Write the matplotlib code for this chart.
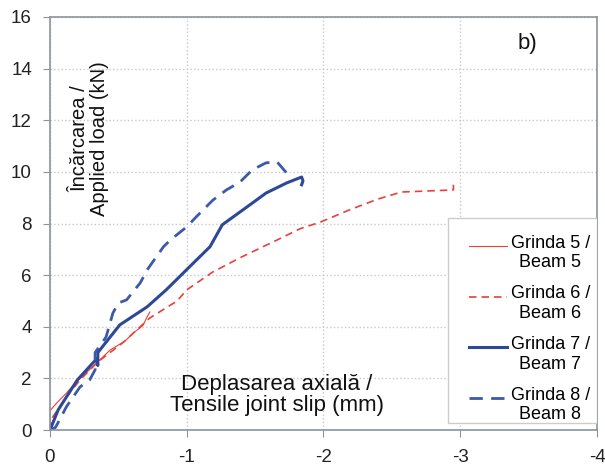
import matplotlib.pyplot as plt
from matplotlib.lines import Line2D
from matplotlib.legend_handler import HandlerLine2D
from matplotlib.patches import Rectangle
import numpy as np

plt.rcParams['font.family'] = ['Liberation Sans', 'DejaVu Sans']
plt.rcParams['axes.unicode_minus'] = False

# Grinda 5 / Beam 5
x5 = [0, 0, -0.05, -0.12, -0.2, -0.31, -0.44, -0.55, -0.61, -0.68, -0.71, -0.73]
y5 = [0, 0.75, 1.05, 1.43, 1.9, 2.44, 3.1, 3.45, 3.76, 4.05, 4.38, 4.57]

# Grinda 6 / Beam 6
x6 = [0, -0.02, -0.12, -0.22, -0.35, -0.53, -0.73, -0.93, -1.0, -1.19, -1.4,
      -1.66, -1.83, -1.98, -2.2, -2.4, -2.57, -2.95, -2.95]
y6 = [0, 0.5, 1.28, 1.94, 2.64, 3.37, 4.34, 5.0, 5.43, 6.12, 6.7,
      7.36, 7.8, 8.06, 8.55, 8.95, 9.22, 9.3, 9.5]

# Grinda 7 / Beam 7
x7 = [0, -0.06, -0.2, -0.34, -0.35, -0.35, -0.51, -0.71, -0.85, -1.02, -1.17,
      -1.26, -1.44, -1.58, -1.73, -1.84, -1.85, -1.84]
y7 = [0, 0.78, 1.94, 2.75, 2.5, 3.0, 4.07, 4.77, 5.43, 6.32, 7.1,
      7.95, 8.64, 9.18, 9.57, 9.8, 9.65, 9.5]

# Grinda 8 / Beam 8
x8 = [0, -0.04, -0.07, -0.12, -0.22, -0.29, -0.33, -0.33, -0.41, -0.46, -0.5,
      -0.56, -0.66, -0.71, -0.83, -0.88, -1.0, -1.07, -1.19, -1.29, -1.39,
      -1.48, -1.58, -1.66, -1.73]
y8 = [0, 0.1, 0.39, 0.9, 1.67, 1.94, 2.33, 3.0, 3.6, 4.53, 4.92,
      5.04, 5.7, 6.2, 7.1, 7.36, 7.87, 8.26, 8.9, 9.3, 9.61,
      10.08, 10.35, 10.39, 9.96]

red = '#e8403a'
blue = '#2d4896'
blue2 = '#3b5aa8'


# legend line sits at the level of the first text line, not in the middle
class RaisedLine(HandlerLine2D):
    def create_artists(self, legend, orig_handle, xdescent, ydescent,
                       width, height, fontsize, trans):
        return super().create_artists(legend, orig_handle, xdescent,
                                      ydescent - 10, width, height,
                                      fontsize, trans)


fig = plt.figure(figsize=(6.05, 4.67), dpi=100)
ax = fig.add_axes([0.0826, 0.0792, 0.9042, 0.8844])

ax.plot(x5, y5, color=red, lw=0.8, label='Grinda 5 /\nBeam 5')
ax.plot(x6, y6, color=red, lw=1.2, dashes=(4.5, 3), label='Grinda 6 /\nBeam 6')
ax.plot(x7, y7, color=blue, lw=2.2, label='Grinda 7 /\nBeam 7')
ax.plot(x8, y8, color=blue2, lw=2.0, dashes=(4.8, 3), label='Grinda 8 /\nBeam 8')

ax.set_xlim(0, -4)
ax.set_ylim(0, 16)
ax.set_xticks([0, -1, -2, -3, -4])
ax.set_yticks(np.arange(0, 17, 2))
ax.grid(True, color='#c8c8c8', linestyle=':', linewidth=1)
for s in ax.spines.values():
    s.set_color('#8c939c')
    s.set_linewidth(1.2)
ax.tick_params(direction='out', length=5, color='#8c939c', labelsize=13.5,
               labelcolor='#222222')
ax.tick_params(axis='x', pad=9)
ax.tick_params(axis='y', pad=8)

ax.text(0.073, 0.705, 'Încărcarea /\nApplied load (kN)', transform=ax.transAxes,
        rotation=90, ha='center', va='center', multialignment='center',
        fontsize=14.5, color='#111111', linespacing=1.05)
ax.text(0.415, 0.085, 'Deplasarea axială /\nTensile joint slip (mm)',
        transform=ax.transAxes, ha='center', va='center',
        multialignment='center', fontsize=16, color='#111111', linespacing=1.05)
ax.text(0.873, 0.935, 'b)', transform=ax.transAxes, ha='center', va='center',
        fontsize=16, color='#111111')

# legend box drawn separately
ax.add_patch(Rectangle((0.7276, 0.017), 0.2724, 0.496, transform=ax.transAxes,
                       facecolor='white', edgecolor='#cccccc', lw=1, zorder=4))
leg = ax.legend(loc='upper right', bbox_to_anchor=(1.02, 0.517), fontsize=13,
                frameon=False, handlelength=2.8, handletextpad=0.2,
                labelspacing=0.78, borderpad=0.5,
                handler_map={Line2D: RaisedLine(xpad=0.72)})
leg.set_zorder(5)
for t in leg.get_texts():
    t.set_multialignment('center')

fig.savefig('out.png', dpi=100)
